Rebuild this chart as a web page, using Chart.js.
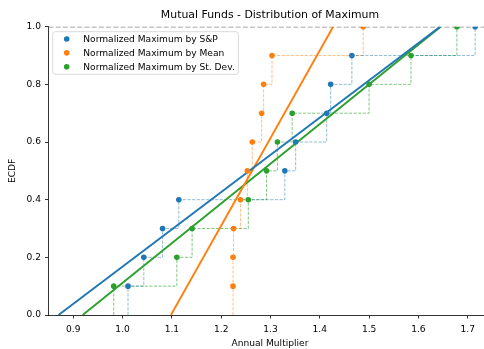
<!DOCTYPE html>
<html>
<head>
<meta charset="utf-8">
<script src="https://cdn.jsdelivr.net/npm/chart.js@4.4.0/dist/chart.umd.min.js"></script>
<style>
  html, body { margin: 0; padding: 0; background: #fff; }
</style>
</head>
<body>
<canvas id="ecdfChart" width="484" height="349"></canvas>
<script>
// ECDF levels (one per fund) and the observed values of each series
const levels = [0.1, 0.2, 0.3, 0.4, 0.5, 0.6, 0.7, 0.8, 0.9, 1.0];
const spMax = [1.011, 1.043, 1.081, 1.114, 1.329, 1.351, 1.414, 1.422, 1.465, 1.715];
const meanMax = [1.224, 1.224, 1.225, 1.239, 1.253, 1.263, 1.282, 1.286, 1.303, 1.488];
const sdMax = [0.982, 1.110, 1.141, 1.255, 1.292, 1.314, 1.344, 1.500, 1.585, 1.678];

// fitted straight lines: x where each reaches ECDF 0 and ECDF 1
const fitLevels = [0, 1];
const spFit = [0.870, 1.644];
const meanFit = [1.098, 1.427];
const sdFit = [0.919, 1.645];

const seriesLabels = ["Normalized Maximum by S&P", "Normalized Maximum by Mean", "Normalized Maximum by St. Dev."];
const xTicks = [0.9, 1.0, 1.1, 1.2, 1.3, 1.4, 1.5, 1.6, 1.7];
const yTicks = [0.0, 0.2, 0.4, 0.6, 0.8, 1.0];
// visible x range; the original axes run a little past the right edge (to about 1.748)
const xRange = [0.8497, 1.733];
const xFullMax = 1.748;

const colors = ["#1f77b4", "#ff7f0e", "#2ca02c"];
const faded = ["rgba(31,119,180,0.55)", "rgba(255,127,14,0.55)", "rgba(44,160,44,0.65)"];

Chart.defaults.font.family = "'DejaVu Sans', sans-serif";
Chart.defaults.color = "#000";

function points(xs) {
  return xs.map(function (x, i) { return { x: x, y: levels[i] }; });
}

function steps(xs) {
  return [{ x: xs[0], y: 0 }].concat(points(xs));
}

function fitLine(ends) {
  return ends.map(function (x, i) { return { x: x, y: fitLevels[i] }; });
}

const allSeries = [spMax, meanMax, sdMax];
const allFits = [spFit, meanFit, sdFit];
const datasets = [];

allSeries.forEach(function (xs, i) {
  datasets.push({
    label: seriesLabels[i],
    data: points(xs),
    showLine: false,
    pointRadius: 2.8,
    pointBackgroundColor: colors[i],
    pointBorderWidth: 0,
    clip: 0,
    order: 1
  });
  datasets.push({
    data: steps(xs),
    stepped: true,
    borderColor: faded[i],
    borderWidth: 0.9,
    borderDash: [3.2, 1.4],
    pointRadius: 0,
    clip: 0,
    order: 5
  });
  datasets.push({
    data: fitLine(allFits[i]),
    borderColor: colors[i],
    borderWidth: 1.9,
    pointRadius: 0,
    clip: 0,
    order: 2
  });
});

// dashed reference line at ECDF = 1
datasets.push({
  data: [{ x: xRange[0], y: 1 }, { x: xRange[1], y: 1 }],
  borderColor: "rgba(128,128,128,0.9)",
  borderWidth: 1.4,
  borderDash: [5, 2.2],
  pointRadius: 0,
  clip: 0,
  order: 4
});

// ========== TITLE + X LABEL (centred on the full axes) ==========
const axesText = {
  id: "axesText",
  afterDraw: function (chart) {
    const ctx = chart.ctx;
    const xs = chart.scales.x;
    const cx = xs.getPixelForValue((xRange[0] + xFullMax) / 2);
    ctx.save();
    ctx.fillStyle = "#000";
    ctx.textAlign = "center";
    ctx.textBaseline = "middle";
    ctx.font = "10.9px 'DejaVu Sans'";
    ctx.fillText("Mutual Funds - Distribution of Maximum", cx, 15.4);
    ctx.font = "9.1px 'DejaVu Sans'";
    ctx.fillText("Annual Multiplier", cx, 343.2);
    ctx.restore();
  }
};

// ========== LEGEND INSIDE THE PLOT ==========
const legendBox = {
  id: "legendBox",
  afterDraw: function (chart) {
    const ctx = chart.ctx;
    const area = chart.chartArea;
    ctx.save();
    ctx.font = "9.1px 'DejaVu Sans'";
    let w = 0;
    seriesLabels.forEach(function (t) { w = Math.max(w, ctx.measureText(t).width); });
    const left = area.left + 4.2, top = area.top + 5;
    const width = 30.6 + w + 3.6, height = 42.6;
    ctx.beginPath();
    ctx.roundRect(left, top, width, height, 2.5);
    ctx.fillStyle = "rgba(255,255,255,0.8)";
    ctx.fill();
    ctx.strokeStyle = "#d0d0d0";
    ctx.lineWidth = 0.8;
    ctx.stroke();
    seriesLabels.forEach(function (t, i) {
      const y = top + 7.3 + i * 13.85;
      ctx.beginPath();
      ctx.arc(left + 14, y, 2.8, 0, Math.PI * 2);
      ctx.fillStyle = colors[i];
      ctx.fill();
      ctx.fillStyle = "#000";
      ctx.textBaseline = "middle";
      ctx.fillText(t, left + 30.6, y + 0.5);
    });
    ctx.restore();
  }
};

new Chart(document.getElementById("ecdfChart"), {
  type: "line",
  data: { datasets: datasets },
  plugins: [axesText, legendBox],
  options: {
    responsive: false,
    animation: false,
    layout: {
      autoPadding: false,
      padding: { left: 0, right: 0, top: 26.7, bottom: 0 }
    },
    plugins: {
      legend: { display: false },
      tooltip: { enabled: false },
      title: { display: false }
    },
    scales: {
      x: {
        type: "linear",
        min: xRange[0],
        max: xRange[1],
        afterBuildTicks: function (scale) {
          scale.ticks = xTicks.map(function (v) { return { value: v }; });
        },
        afterFit: function (scale) { scale.height = 34; },
        ticks: {
          padding: 5.5,
          font: { size: 9.1 },
          callback: function (v) { return v.toFixed(1); }
        },
        grid: {
          drawOnChartArea: false,
          drawTicks: true,
          tickLength: 3.5,
          color: "#000",
          lineWidth: 0.8
        },
        border: { display: true, color: "#000", width: 0.8 }
      },
      y: {
        min: 0,
        max: 1,
        afterBuildTicks: function (scale) {
          scale.ticks = yTicks.map(function (v) { return { value: v }; });
        },
        afterFit: function (scale) { scale.width = 48.5; },
        ticks: {
          padding: 4,
          font: { size: 9.1 },
          callback: function (v) { return v.toFixed(1); }
        },
        grid: {
          drawOnChartArea: false,
          drawTicks: true,
          tickLength: 3.5,
          color: "#000",
          lineWidth: 0.8
        },
        border: { display: true, color: "#000", width: 0.8 },
        title: {
          display: true,
          text: "ECDF",
          font: { size: 9.1 },
          padding: { top: 7, bottom: 0 }
        }
      }
    }
  }
});
</script>
</body>
</html>
